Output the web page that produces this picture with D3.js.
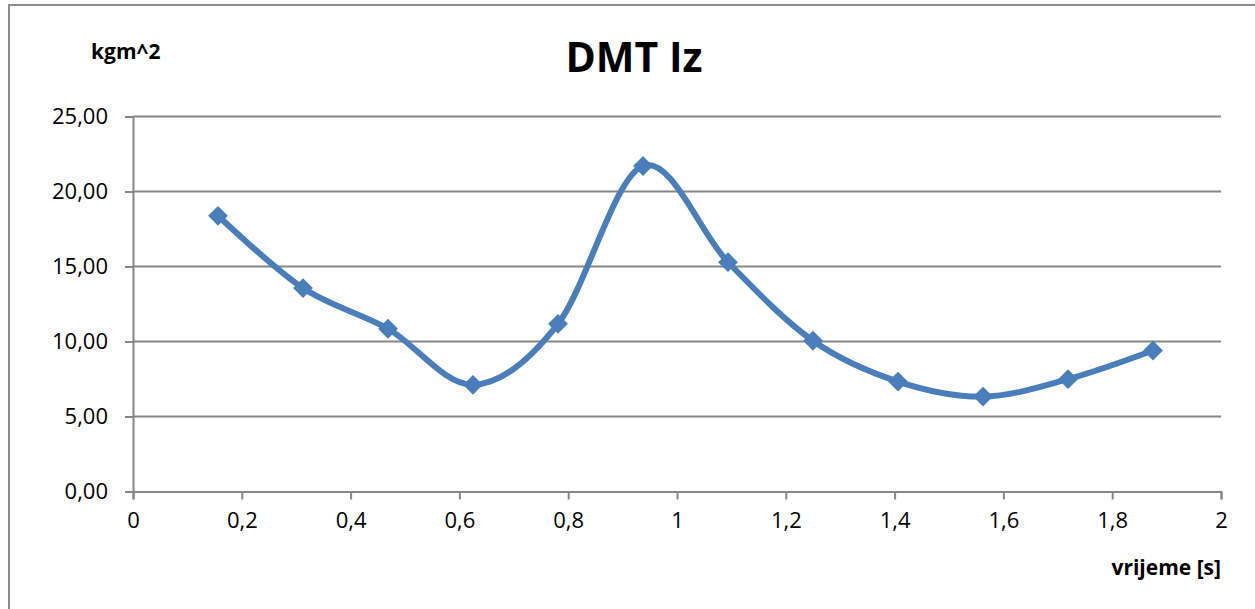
<!DOCTYPE html>
<html>
<head>
<meta charset="utf-8">
<script src="https://cdn.jsdelivr.net/npm/d3@7"></script>
<style>
  html, body { margin: 0; padding: 0; background: #fff; }
  svg { display: block; }
  text { font-family: "Open Sans", "Liberation Sans", sans-serif; fill: #000; }
</style>
</head>
<body>
<svg id="chart" width="1255" height="609"></svg>
<script>
const title = "DMT Iz";
const yAxisTitle = "kgm^2";
const xAxisTitle = "vrijeme [s]";
const times = [0.15625, 0.3125, 0.46875, 0.625, 0.78125, 0.9375, 1.09375, 1.25, 1.40625, 1.5625, 1.71875, 1.875];
const values = [18.38, 13.56, 10.85, 7.11, 11.18, 21.7, 15.29, 10.05, 7.33, 6.33, 7.49, 9.4];
const xTicks = [0, 0.2, 0.4, 0.6, 0.8, 1, 1.2, 1.4, 1.6, 1.8, 2];
const yTicks = [0, 5, 10, 15, 20, 25];

const svg = d3.select("#chart");
const W = 1255, H = 609;
const plotLeft = 133, plotRight = 1221, plotTop = 116.5, plotBottom = 491.5;
const gridColor = "#868686";
const seriesColor = "#4A7EBB";

// outer chart border
svg.append("rect").attr("x", 9).attr("y", 5).attr("width", W + 10).attr("height", H + 10)
  .attr("fill", "#fff").attr("stroke", "#8c8c8c").attr("stroke-width", 2);

const x = d3.scaleLinear().domain([0, 2]).range([plotLeft, plotRight]);
const y = d3.scaleLinear().domain([0, 25]).range([plotBottom, plotTop]);

// gridlines
svg.append("g").selectAll("line").data(yTicks.filter(d => d > 0)).join("line")
  .attr("x1", plotLeft).attr("x2", plotRight).attr("y1", d => y(d)).attr("y2", d => y(d))
  .attr("stroke", gridColor).attr("stroke-width", 2);

const fmtY = d => d3.format(".2f")(d).replace(".", ",");
const fmtX = d => String(d3.format("~g")(d)).replace(".", ",");

// y axis
const yAxis = svg.append("g").attr("transform", `translate(${plotLeft},0)`)
  .call(d3.axisLeft(y).tickValues(yTicks).tickSize(8).tickPadding(17).tickFormat(fmtY));
yAxis.select(".domain").attr("stroke", gridColor).attr("stroke-width", 2);
yAxis.selectAll(".tick line").attr("stroke", gridColor).attr("stroke-width", 2);
yAxis.selectAll(".tick text").attr("font-size", 22).attr("font-family", "Open Sans").attr("fill", "#000");

// x axis
const xAxis = svg.append("g").attr("transform", `translate(0,${plotBottom})`)
  .call(d3.axisBottom(x).tickValues(xTicks).tickSize(8).tickPadding(13).tickFormat(fmtX));
xAxis.select(".domain").attr("stroke", gridColor).attr("stroke-width", 2);
xAxis.selectAll(".tick line").attr("stroke", gridColor).attr("stroke-width", 2);
xAxis.selectAll(".tick text").attr("font-size", 22).attr("font-family", "Open Sans").attr("fill", "#000");

// series
const data = times.map((t, i) => ({ t, v: values[i] }));
const line = d3.line().x(d => x(d.t)).y(d => y(d.v)).curve(d3.curveCardinal.tension(0));
svg.append("path").datum(data).attr("d", line)
  .attr("fill", "none").attr("stroke", seriesColor).attr("stroke-width", 6)
  .attr("stroke-linejoin", "round").attr("stroke-linecap", "round");

svg.append("g").selectAll("path").data(data).join("path")
  .attr("d", d3.symbol().type(d3.symbolDiamond2).size(250)())
  .attr("transform", d => `translate(${x(d.t)},${y(d.v)})`)
  .attr("fill", seriesColor);

// titles
svg.append("text").attr("x", 634).attr("y", 72).attr("text-anchor", "middle")
  .attr("font-size", 41).attr("font-weight", "bold").text(title);
svg.append("text").attr("x", 91).attr("y", 59).attr("text-anchor", "start")
  .attr("font-size", 21).attr("font-weight", "bold").text(yAxisTitle);
svg.append("text").attr("x", 1221).attr("y", 575).attr("text-anchor", "end")
  .attr("font-size", 21).attr("font-weight", "bold").text(xAxisTitle);
</script>
</body>
</html>
